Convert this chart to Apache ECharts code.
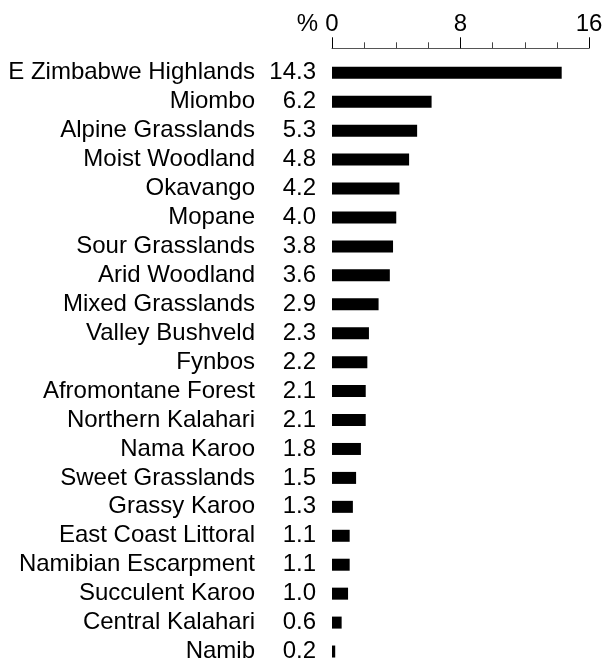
<!DOCTYPE html>
<html>
<head>
<meta charset="utf-8">
<script src="https://cdn.jsdelivr.net/npm/echarts@6/dist/echarts.min.js"></script>
<style>
  html, body { margin: 0; padding: 0; background: #fff; }
  #main { width: 613px; height: 666px; }
</style>
</head>
<body>
<div id="main"></div>
<script>
var regions = ['E Zimbabwe Highlands', 'Miombo', 'Alpine Grasslands', 'Moist Woodland', 'Okavango',
  'Mopane', 'Sour Grasslands', 'Arid Woodland', 'Mixed Grasslands', 'Valley Bushveld', 'Fynbos',
  'Afromontane Forest', 'Northern Kalahari', 'Nama Karoo', 'Sweet Grasslands', 'Grassy Karoo',
  'East Coast Littoral', 'Namibian Escarpment', 'Succulent Karoo', 'Central Kalahari', 'Namib'];
var percent = [14.3, 6.2, 5.3, 4.8, 4.2, 4.0, 3.8, 3.6, 2.9, 2.3, 2.2, 2.1, 2.1, 1.8, 1.5, 1.3, 1.1, 1.1, 1.0, 0.6, 0.2];
var axisTicks = [0, 8, 16];

var font = 'Liberation Sans, Arial, sans-serif';
var chart = echarts.init(document.getElementById('main'));

var option = {
  animation: false,
  grid: { left: 332, right: 24, top: 58.3, height: 616.4 },
  xAxis: {
    type: 'value',
    position: 'top',
    offset: 10,
    min: axisTicks[0],
    max: axisTicks[axisTicks.length - 1],
    interval: 8,
    name: '%',
    nameLocation: 'start',
    nameGap: 14,
    nameTextStyle: { color: '#000', fontSize: 24, fontFamily: font, verticalAlign: 'bottom', padding: [0, 0, 12, 0] },
    axisLine: { show: true, lineStyle: { color: '#555', width: 1 } },
    axisTick: { show: true, length: 11, lineStyle: { color: '#000' } },
    minorTick: { show: true, splitNumber: 4, length: 6, lineStyle: { color: '#444' } },
    axisLabel: { color: '#000', fontSize: 24, fontFamily: font, margin: 12 },
    splitLine: { show: false }
  },
  yAxis: {
    type: 'category',
    inverse: true,
    data: regions,
    axisLine: { show: false },
    axisTick: { show: false },
    axisLabel: {
      margin: 16,
      formatter: function (name, i) {
        return '{n|' + name + '}{v|' + percent[i].toFixed(1) + '}';
      },
      rich: {
        n: { color: '#000', fontSize: 24, fontFamily: font },
        v: { color: '#000', fontSize: 24, fontFamily: font, width: 61, align: 'right' }
      }
    }
  },
  series: [{
    type: 'bar',
    data: percent,
    barWidth: 12,
    itemStyle: { color: '#000' }
  }]
};
chart.setOption(option);
</script>
</body>
</html>
